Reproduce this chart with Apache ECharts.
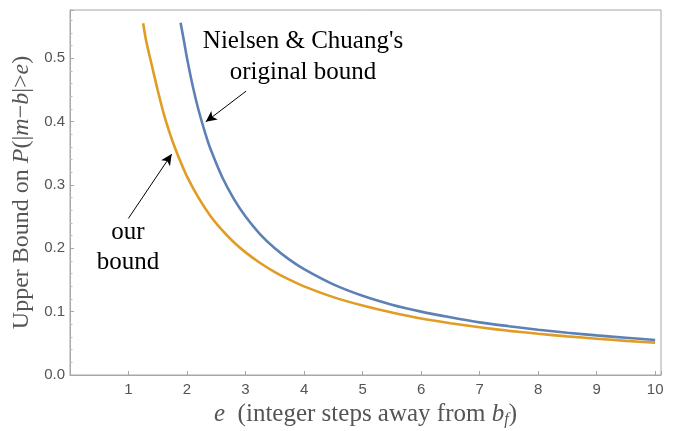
<!DOCTYPE html>
<html>
<head>
<meta charset="utf-8">
<script src="https://cdn.jsdelivr.net/npm/echarts@6/dist/echarts.min.js"></script>
<style>html,body{margin:0;padding:0;background:#fff;}#c{width:677px;height:431px;}</style>
</head>
<body>
<div id="c"></div>
<script>
// Our bound (orange): [e, value]
const ourE   = [1.25, 1.3, 1.4, 1.5, 1.6, 1.7, 1.8, 1.9, 2.0, 2.2, 2.4, 2.6, 2.8, 3.0, 3.25, 3.5, 3.75, 4.0, 4.5, 5.0, 5.5, 6.0, 6.5, 7.0, 7.5, 8.0, 8.5, 9.0, 9.5, 10.0];
const ourV   = [0.555, 0.528, 0.488, 0.449, 0.413, 0.383, 0.357, 0.334, 0.313, 0.279, 0.251, 0.2285, 0.2094, 0.1935, 0.1767, 0.1624, 0.1504, 0.1399, 0.1229, 0.1096, 0.0987, 0.0893, 0.0818, 0.0753, 0.0697, 0.0651, 0.0609, 0.0573, 0.0539, 0.0511];
// Nielsen & Chuang's original bound (blue)
const ncE    = [1.89, 1.95, 2.0, 2.1, 2.2, 2.32, 2.4, 2.6, 2.8, 3.0, 3.25, 3.5, 3.75, 4.0, 4.5, 5.0, 5.5, 6.0, 6.5, 7.0, 7.5, 8.0, 8.5, 9.0, 9.5, 10.0];
const ncV    = [0.556, 0.526, 0.500, 0.455, 0.417, 0.379, 0.357, 0.3125, 0.278, 0.250, 0.222, 0.200, 0.182, 0.167, 0.143, 0.125, 0.111, 0.100, 0.091, 0.083, 0.077, 0.0714, 0.0667, 0.0625, 0.0588, 0.0552];
const xTicks = [1, 2, 3, 4, 5, 6, 7, 8, 9, 10];
const yTicks = [0.0, 0.1, 0.2, 0.3, 0.4, 0.5];

const chart = echarts.init(document.getElementById('c'), null, {renderer: 'canvas'});
const serif = '"Liberation Serif", "DejaVu Serif", serif';
const sans = '"Liberation Sans", Arial, sans-serif';
const gray = '#555';
const frame = '#a6a6a6';

chart.setOption({
  animation: false,
  backgroundColor: '#fff',
  grid: {left: 70, right: 16, top: 10, bottom: 56, containLabel: false, outerBoundsMode: 'none',
         show: true, borderColor: frame, borderWidth: 1, backgroundColor: 'transparent'},
  xAxis: {
    type: 'value', min: 0, max: 10.1, interval: 1,
    axisLine: {lineStyle: {color: frame, width: 1}},
    axisTick: {inside: true, length: 4, lineStyle: {color: frame}},
    minorTick: {show: false},
    splitLine: {show: false},
    axisLabel: {color: gray, fontFamily: sans, fontSize: 15, margin: 7,
      formatter: v => xTicks.indexOf(Math.round(v*1000)/1000) >= 0 ? String(v) : ''},
    name: '{i|e}{a|  (integer steps away from }{i|b}{sub|f}{a|)}',
    nameLocation: 'middle', nameGap: 25,
    nameTextStyle: {
      rich: {
        a: {fontFamily: serif, fontSize: 25, color: gray},
        i: {fontFamily: serif, fontSize: 25, color: gray, fontStyle: 'italic'},
        sub: {fontFamily: serif, fontSize: 16, color: gray, fontStyle: 'italic', padding: [11, 0, 0, 0]}
      }
    }
  },
  yAxis: {
    type: 'value', min: 0, max: 0.576, interval: 0.1,
    axisLine: {show: true, lineStyle: {color: frame, width: 1}},
    axisTick: {show: true, inside: true, length: 4, lineStyle: {color: frame}},
    minorTick: {show: true, splitNumber: 5, length: 2.5, lineStyle: {color: '#bdbdbd'}},
    splitLine: {show: false},
    axisLabel: {color: gray, fontFamily: sans, fontSize: 15, margin: 5,
      formatter: v => {
        const r = Math.round(v*1000)/1000;
        return yTicks.some(t => Math.abs(t - r) < 1e-6) ? r.toFixed(1) : '';
      }},
    name: '{a|Upper Bound on }{i|P}{a|(|}{i|m}{a|−}{i|b}{a||>}{i|e}{a|)}',
    nameLocation: 'middle', nameGap: 36, nameRotate: 90,
    nameTextStyle: {
      rich: {
        a: {fontFamily: serif, fontSize: 24, color: gray},
        i: {fontFamily: serif, fontSize: 24, color: gray, fontStyle: 'italic'}
      }
    }
  },
  series: [
    {
      name: 'our bound', type: 'line', showSymbol: false, smooth: 0.25, clip: true,
      data: ourE.map((e, i) => [e, ourV[i]]),
      lineStyle: {color: '#E19C24', width: 2.6},
      itemStyle: {color: '#E19C24'},
      z: 3
    },
    {
      name: "Nielsen & Chuang's original bound", type: 'line', showSymbol: false, smooth: 0.25, clip: true,
      data: ncE.map((e, i) => [e, ncV[i]]),
      lineStyle: {color: '#5E81B5', width: 2.6},
      itemStyle: {color: '#5E81B5'},
      z: 4,
      markLine: {
        silent: true, symbol: ['none', 'arrow'], symbolSize: [8, 11],
        label: {show: false},
        lineStyle: {color: '#000', width: 1, type: 'solid'},
        data: [
          [{coord: [3.01, 0.448]}, {coord: [2.32, 0.3995]}],
          [{coord: [0.997, 0.247]}, {coord: [1.738, 0.3486]}]
        ]
      }
    }
  ],
  graphic: [
    {type: 'text', x: 303, y: 41, style: {text: "Nielsen & Chuang's", font: '25px "Liberation Serif", serif', fill: '#000', textAlign: 'center', textVerticalAlign: 'middle'}},
    {type: 'text', x: 303, y: 72, style: {text: 'original bound', font: '25px "Liberation Serif", serif', fill: '#000', textAlign: 'center', textVerticalAlign: 'middle'}},
    {type: 'text', x: 128, y: 232, style: {text: 'our', font: '25px "Liberation Serif", serif', fill: '#000', textAlign: 'center', textVerticalAlign: 'middle'}},
    {type: 'text', x: 128, y: 262, style: {text: 'bound', font: '25px "Liberation Serif", serif', fill: '#000', textAlign: 'center', textVerticalAlign: 'middle'}}
  ]
});
</script>
</body>
</html>
